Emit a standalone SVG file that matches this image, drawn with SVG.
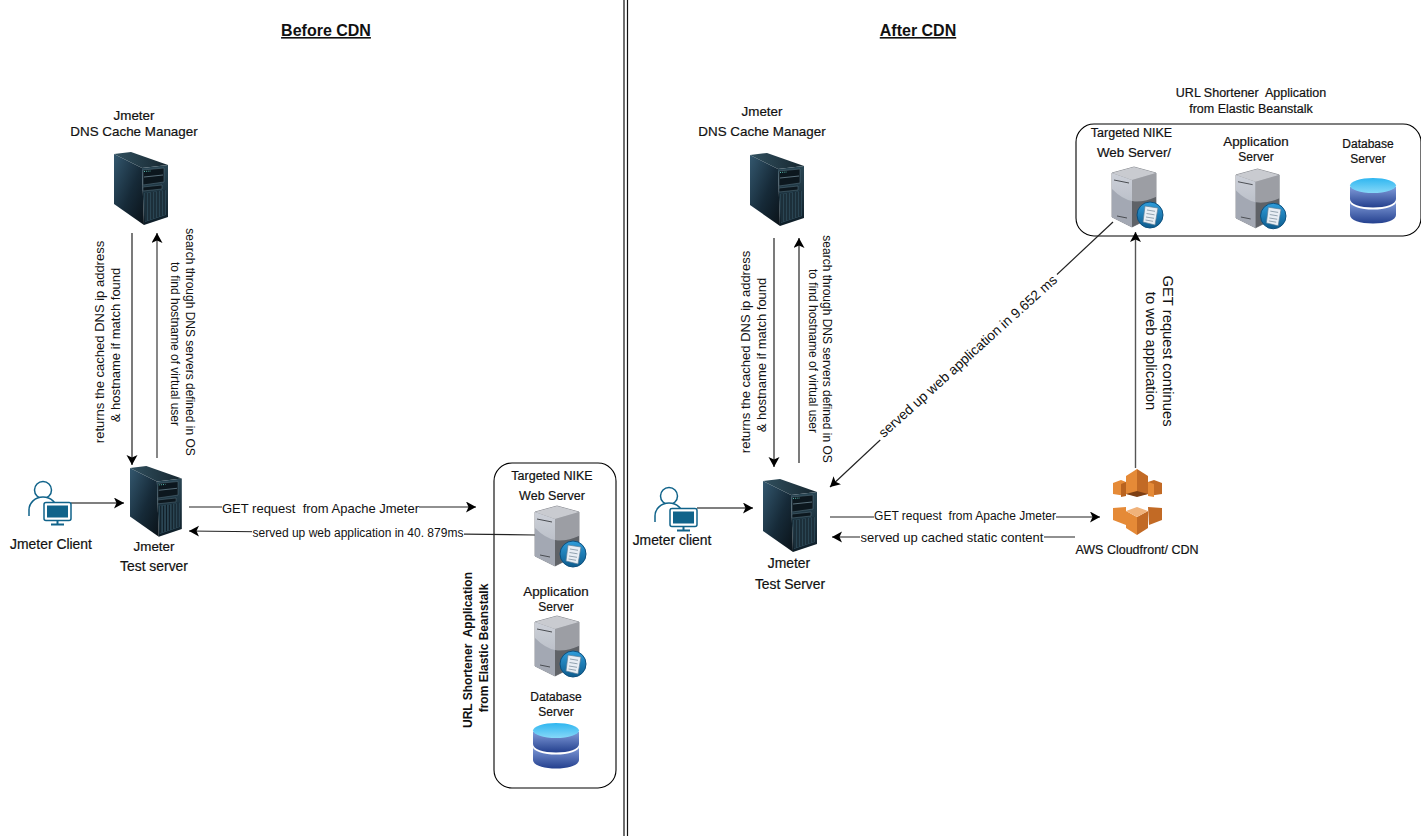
<svg xmlns="http://www.w3.org/2000/svg" xmlns:xlink="http://www.w3.org/1999/xlink" width="1421" height="838" viewBox="0 0 1421 838">
<style>
text{font-family:"Liberation Sans",Arial,sans-serif;font-size:12px;fill:#111;text-anchor:middle;white-space:pre}
.t{font-size:16px;font-weight:bold;text-decoration:underline}
.b{font-weight:bold}
.l{font-size:13px}
.n{stroke:#111;stroke-width:.2}
.s{font-size:12.500px}
.m{font-size:13.400px}
.h{font-size:13.900px}
.x{font-size:14.800px}
.c{stroke:#222;stroke-width:1.200;fill:none;marker-end:url(#a)}
.g{stroke:#555;stroke-width:1.400}
.bg{fill:#fff}
.box{fill:#fff;stroke:#000;stroke-width:1.100}
</style>
<defs>
<marker id="a" markerUnits="userSpaceOnUse" markerWidth="12" markerHeight="12" refX="10" refY="5.500" orient="auto"><path d="M0 0L10 5.500L0 11L2.500 5.500Z" fill="#000"/></marker>
<linearGradient id="bs" x1="0" y1="0" x2="1" y2="1"><stop offset="0" stop-color="#34586f"/><stop offset=".55" stop-color="#162a38"/><stop offset="1" stop-color="#0a1218"/></linearGradient>
<linearGradient id="bt" x1="0" y1="0" x2="1" y2="0"><stop offset="0" stop-color="#31505f"/><stop offset="1" stop-color="#16262f"/></linearGradient>
<linearGradient id="bf" x1="0" y1="0" x2="0" y2="1"><stop offset="0" stop-color="#2a4654"/><stop offset="1" stop-color="#0e1d27"/></linearGradient>
<linearGradient id="gs" x1="0" y1="0" x2="0" y2="1"><stop offset="0" stop-color="#ccd0d8"/><stop offset="1" stop-color="#aeb3bd"/></linearGradient>
<linearGradient id="gl" x1="0" y1="0" x2="0" y2="1"><stop offset="0" stop-color="#2f9ddb"/><stop offset="1" stop-color="#0d5c8e"/></linearGradient>
<linearGradient id="db1" x1="0" y1="0" x2="0" y2="1"><stop offset="0" stop-color="#7f9ad8"/><stop offset="1" stop-color="#24408e"/></linearGradient>
<linearGradient id="db2" x1="0" y1="0" x2="0" y2="1"><stop offset="0" stop-color="#2fb6f0"/><stop offset="1" stop-color="#86d8f8"/></linearGradient>
<g id="blackServer">
<path d="M0 2L28 16L30 73L0 52Z" fill="url(#bs)"/>
<path d="M0 2L17 0L54 13L28 16Z" fill="url(#bt)"/>
<path d="M28 16L54 13L54 65L30 73Z" fill="url(#bf)"/>
<path d="M29 18L50 16V30L29 33Z" fill="#0c171e" stroke="#5a7684" stroke-width=".5"/>
<path d="M30 25L49 23" stroke="#6c8592" stroke-width=".8"/>
<path d="M29 35L48 33V37L29 39Z" fill="#0c171e" stroke="#5a7684" stroke-width=".5"/>
<path d="M30 41L52 38V63L31 70Z" fill="#2a4553"/>
<path d="M32 41V69M35 41V68M38 40V67M41 40V66M44 39V65M47 39V64M50 38V63" stroke="#0e1a22" stroke-width="1"/>
<path d="M30 19.500L37 19" stroke="#5cc0b4" stroke-width="1" stroke-dasharray="1 1.200"/>
</g>
<g id="greyServer">
<path d="M0 6L22 0L44 6V48L20 60L0 50Z" fill="#8b8e95" stroke="#74777e" stroke-width=".8"/>
<path d="M0 6L20 13V60L0 50Z" fill="url(#gs)"/>
<path d="M0 22Q10 32 20 34V60L0 50Z" fill="#a3a8b3"/>
<path d="M20 13L44 6V30Q30 36 20 34Z" fill="#9c9ea4"/>
<path d="M20 34Q30 36 44 30V48L20 60Z" fill="#5f6267"/>
<path d="M0 6L22 0L44 6L20 13Z" fill="#c9cbd0"/>
<path d="M2 13L17 16M5 49L15 51" stroke="#4a4d52" stroke-width="1"/>
<circle cx="38" cy="48" r="13" fill="url(#gl)" stroke="#0d4f7c"/>
<path d="M33 39L46 41L43 58L31 55Z" fill="#e8eef4" stroke="#5a7d96" stroke-width=".7"/>
<path d="M35 43L43 44.300M34.500 46.500L42.500 47.800M34 50L42 51.300M33.500 53L41 54.300" stroke="#7c8f9e" stroke-width=".8"/>
</g>
<g id="db">
<path d="M0 24V37C0 42 10 45.500 23 45.500S46 42 46 37V24Z" fill="url(#db1)"/>
<ellipse cx="23" cy="24" rx="23" ry="7.500" fill="#fff"/>
<path d="M0 9V21C0 26 10 29.500 23 29.500S46 26 46 21V9Z" fill="url(#db1)"/>
<ellipse cx="23" cy="7.500" rx="23" ry="7.500" fill="url(#db2)"/>
</g>
<g id="user" fill="none" stroke="#10638a" stroke-width="1.500">
<circle cx="15" cy="9" r="8.500" fill="#fff"/>
<path d="M1 35V29C1 22 7 16 15 16S29 22 29 29" fill="#fff"/>
<rect x="16" y="21.500" width="27" height="18" rx="2" fill="#fff"/>
<rect x="19" y="24.500" width="21" height="12" fill="#10638a" stroke="none"/>
<path d="M29.500 39.500V43M23 43.500H36" stroke-width="2"/>
</g>
<g id="cloudfront">
<path d="M0 14L8 11L13 13V27L0 25Z" fill="#e58a37"/><path d="M8 15L13 13V27L8 28Z" fill="#b9631f"/>
<path d="M49 14L41 11L35 13V27L49 25Z" fill="#c26a25"/><path d="M35 13L41 15V28L35 27Z" fill="#e58a37"/>
<path d="M24 0L13 7V25L24 27Z" fill="#e58a37"/><path d="M24 0L35 7V25L24 27Z" fill="#c26a25"/>
<path d="M13 25L24 22L35 25L24 28Z" fill="#7d3f14"/>
<path d="M0 39L13 38V56L0 51Z" fill="#e58a37"/>
<path d="M35 38L49 39V51L36 56Z" fill="#c26a25"/>
<path d="M13 42L24 48V66L13 59Z" fill="#e58a37"/><path d="M35 42L24 48V66L35 59Z" fill="#c26a25"/>
<path d="M13 42L24 38L35 42L24 48Z" fill="#f0b27a"/>
</g>
</defs>
<rect width="1421" height="838" fill="#fff"/>

<g id="dividers" stroke="#111" stroke-width="1.200"><path d="M624 0V836M627.500 0V836"/></g>
<text class="t" x="326" y="36">Before CDN</text>
<text class="t" x="918" y="36">After CDN</text>

<g id="containers">
<rect id="beforeAppBox" class="box" x="494" y="463" width="122" height="325" rx="18"/>
<rect id="afterAppBox" class="box" x="1076" y="124" width="345" height="112" rx="18"/>
</g>

<g id="connectors">
<path class="c" d="M132 233V465"/>
<path class="c g" d="M157 458V233"/>
<path class="c g" d="M71 503H124"/>
<path class="c" d="M189 507H476"/>
<path class="c" d="M535 535L189 531"/>
<path class="c" d="M774 238V467"/>
<path class="c" d="M799 463V238"/>
<path class="c g" d="M697 508H753"/>
<path class="c" d="M830 517H1100"/>
<path class="c" d="M1075 537H832"/>
<path class="c" d="M1113 222L830 487"/>
<path class="c g" d="M1135.500 468V232"/>
<rect class="bg" x="222" y="501" width="197" height="14"/>
<text class="l" x="320.500" y="513">GET request  from Apache Jmeter</text>
<rect class="bg" x="252" y="526" width="212" height="14"/>
<text x="358" y="537">served up web application in 40. 879ms</text>
<rect class="bg" x="874" y="510" width="182" height="13"/>
<text x="965" y="520">GET request  from Apache Jmeter</text>
<rect class="bg" x="860" y="531" width="184" height="13"/>
<text class="l" x="952" y="542">served up cached static content</text>
<g transform="translate(967.500 356) rotate(-42)"><rect class="bg" x="-121" y="-8" width="242" height="16"/><text y="5" style="font-size:13.800px">served up web application in 9.652 ms</text></g>
</g>

<g id="beforeDnsManager"><use href="#blackServer" x="114" y="152"/>
<text class="n m" x="134" y="120">Jmeter</text><text class="n m" x="134" y="136">DNS Cache Manager</text></g>
<g id="beforeTestServer"><use href="#blackServer" transform="translate(130 466) scale(.96 .97)"/>
<text class="n m" x="154" y="551">Jmeter</text><text class="n h" x="154" y="571">Test server</text></g>
<g id="beforeClient"><use href="#user" x="28" y="481"/><text class="n h" x="51" y="549">Jmeter Client</text></g>
<g id="beforeWebServer"><use href="#greyServer" x="535" y="506"/>
<text class="n s" x="552" y="480">Targeted NIKE</text><text class="n s" x="552" y="500">Web Server</text></g>
<g id="beforeAppServer"><use href="#greyServer" x="535" y="616"/>
<text class="n m" x="556" y="596">Application</text><text class="n" x="556" y="611">Server</text></g>
<g id="beforeDbServer"><use href="#db" x="533" y="723"/>
<text class="n" x="556" y="701">Database</text><text class="n" x="556" y="716">Server</text></g>
<text class="b" transform="translate(472 650) rotate(-90)">URL Shortener  Application</text>
<text class="b" transform="translate(488 648) rotate(-90)">from Elastic Beanstalk</text>
<text class="l" transform="translate(103.500 342) rotate(-90)">returns the cached DNS ip address</text>
<text class="l" transform="translate(119.500 345) rotate(-90)">&amp; hostname if match found</text>
<text transform="translate(186 342) rotate(90)">search through DNS servers defined in OS</text>
<text transform="translate(171 344) rotate(90)">to find hostname of virtual user</text>

<g id="afterDnsManager"><use href="#blackServer" x="750" y="153"/>
<text class="n m" x="762" y="116">Jmeter</text><text class="n m" x="762" y="136">DNS Cache Manager</text></g>
<g id="afterTestServer"><use href="#blackServer" x="763" y="479"/>
<text class="n h" x="789" y="568">Jmeter</text><text class="n h" x="790" y="589">Test Server</text></g>
<g id="afterClient"><use href="#user" x="654" y="487"/><text class="n h" x="672" y="545">Jmeter client</text></g>
<g id="afterCloudfront"><use href="#cloudfront" x="1113" y="469"/><text class="n s" x="1137" y="554">AWS Cloudfront/ CDN</text></g>
<g id="afterWebServer"><use href="#greyServer" x="1112" y="167"/>
<text class="n s" x="1131.500" y="137">Targeted NIKE</text><text class="n m" x="1134" y="157">Web Server/</text></g>
<g id="afterAppServer"><use href="#greyServer" transform="translate(1236 169) scale(.98)"/>
<text class="n m" x="1256" y="146">Application</text><text class="n" x="1256" y="161">Server</text></g>
<g id="afterDbServer"><use href="#db" x="1350" y="178"/>
<text class="n" x="1368" y="148">Database</text><text class="n" x="1368" y="163">Server</text></g>
<text class="n s" x="1251" y="97">URL Shortener  Application</text>
<text class="n s" x="1251" y="113">from Elastic Beanstalk</text>
<text class="l" transform="translate(750 352) rotate(-90)">returns the cached DNS ip address</text>
<text class="l" transform="translate(765.500 355) rotate(-90)">&amp; hostname if match found</text>
<text transform="translate(823 349) rotate(90)">search through DNS servers defined in OS</text>
<text transform="translate(809 351) rotate(90)">to find hostname of virtual user</text>
<text class="x" transform="translate(1163 351) rotate(90)">GET request continues</text>
<text class="x" transform="translate(1145.500 351) rotate(90)">to web application</text>
</svg>
